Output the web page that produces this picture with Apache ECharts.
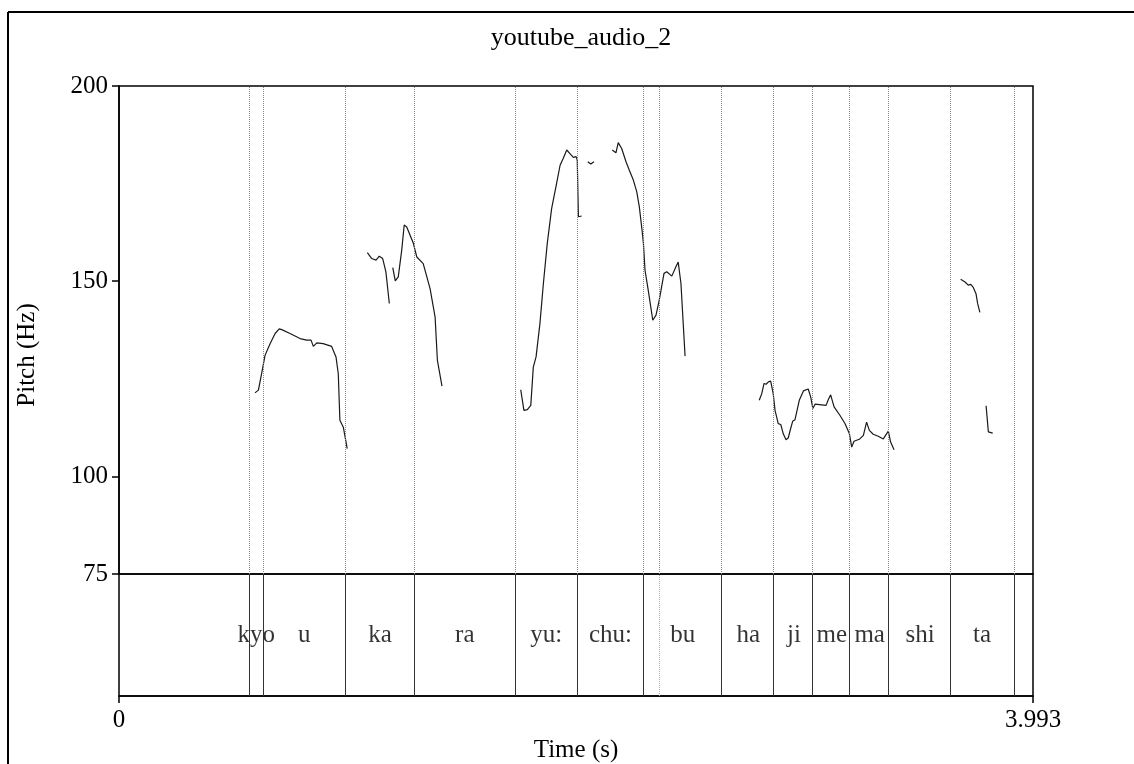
<!DOCTYPE html>
<html><head><meta charset="utf-8">
<script src="https://cdn.jsdelivr.net/npm/echarts@6/dist/echarts.min.js"></script>
<style>html,body{margin:0;padding:0;background:#fff}#c{width:1134px;height:764px}</style>
</head><body><div id="c"></div>
<script>
const chartTitle = 'youtube_audio_2';
const timeMax = 3.993;
const pitchMin = 75, pitchMax = 200;
const pitchTicks = [75, 100, 150, 200];
const timeTicks = [0, 3.993];

// TextGrid tier
const boundaries = [0.5710, 0.6291, 0.9904, 1.2901, 1.7313, 2.0022, 2.2923, 2.6330, 2.8646, 3.0332, 3.1949, 3.3639, 3.6347, 3.9069];
const extraBoundaries = [2.3605];
const intervalLabels = ['', 'kyo', 'u', 'ka', 'ra', 'yu:', 'chu:', 'bu', 'ha', 'ji', 'me', 'ma', 'shi', 'ta', ''];

// Pitch contour segments [time (s), pitch (Hz)]
const seg1 = [[0.594,121.4],[0.609,122.1],[0.623,126.3],[0.638,131.0],[0.660,134.0],[0.682,136.6],[0.700,137.8],[0.711,137.6],[0.747,136.6],[0.791,135.3],[0.820,134.9],[0.839,134.9],[0.849,133.3],[0.864,134.2],[0.892,134.0],[0.929,133.3],[0.948,130.6],[0.958,126.3],[0.965,114.4],[0.980,112.6],[0.997,107.1]];
const seg2 = [[1.085,157.3],[1.104,155.8],[1.123,155.4],[1.137,156.4],[1.152,155.8],[1.166,152.4],[1.181,144.3]];
const seg3 = [[1.196,153.5],[1.207,150.1],[1.220,151.1],[1.235,157.9],[1.246,164.4],[1.257,163.9],[1.286,159.7],[1.301,156.2],[1.329,154.5],[1.359,148.1],[1.381,140.8],[1.391,129.7],[1.411,123.1]];
const seg4 = [[1.755,122.2],[1.769,116.9],[1.784,117.1],[1.799,118.2],[1.810,128.0],[1.822,130.6],[1.839,139.2],[1.854,149.4],[1.871,159.7],[1.890,168.6],[1.909,174.2],[1.927,179.7],[1.941,181.5],[1.956,183.6],[1.970,182.7],[1.985,181.7],[1.997,181.9],[2.002,181.0],[2.007,166.5],[2.021,166.7]];
const seg5 = [[2.048,180.6],[2.061,180.0],[2.075,180.6]];
const seg6 = [[2.155,183.6],[2.171,182.9],[2.181,185.5],[2.196,184.0],[2.215,180.6],[2.229,178.5],[2.247,175.9],[2.262,172.9],[2.273,169.1],[2.285,163.1],[2.291,159.7],[2.298,152.8],[2.312,147.7],[2.332,140.0],[2.346,141.3],[2.360,145.1],[2.381,152.0],[2.393,152.4],[2.415,151.3],[2.433,153.7],[2.443,154.9],[2.455,149.4],[2.473,130.8]];
const seg7 = [[2.797,119.5],[2.808,121.2],[2.818,123.8],[2.827,123.6],[2.837,124.2],[2.847,124.4],[2.854,124.2],[2.858,121.2],[2.866,116.9],[2.880,113.5],[2.891,113.3],[2.902,110.9],[2.914,109.4],[2.924,109.9],[2.934,112.2],[2.943,114.1],[2.953,114.5],[2.972,119.5],[2.990,121.9],[3.011,122.4],[3.022,120.3],[3.031,117.4],[3.041,118.5],[3.089,118.2],[3.099,119.7],[3.109,120.9],[3.124,117.8],[3.150,115.6],[3.172,113.5],[3.191,110.9],[3.201,107.5],[3.211,109.0],[3.234,109.5],[3.252,110.5],[3.266,113.9],[3.278,111.8],[3.295,110.8],[3.317,110.3],[3.339,109.6],[3.361,111.6],[3.371,108.8],[3.386,106.8]];
const seg8 = [[3.677,150.5],[3.696,149.8],[3.710,149.0],[3.721,149.2],[3.732,148.4],[3.744,146.8],[3.751,144.3],[3.761,142.0]];
const seg9 = [[3.788,118.1],[3.798,111.4],[3.805,111.1],[3.817,111.1]];
const pitchSegments = [seg1, seg2, seg3, seg4, seg5, seg6, seg7, seg8, seg9];

const FONT = 'Liberation Serif';
const edges = [0].concat(boundaries, [timeMax]);
const labelData = intervalLabels.map((s, i) => [(edges[i] + edges[i + 1]) / 2, 0.5, s]).filter(d => d[2] !== '');

const series = pitchSegments.map((seg, i) => ({
  type: 'line', xAxisIndex: 0, yAxisIndex: 0, data: seg,
  showSymbol: false, silent: true,
  lineStyle: { color: '#1a1a1a', width: 1.2 },
  markLine: i === 0 ? {
    silent: true, symbol: ['none', 'none'], label: { show: false },
    lineStyle: { type: 'dotted', color: '#888', width: 1 },
    data: boundaries.concat(extraBoundaries).map(t => ({ xAxis: t }))
  } : undefined
}));
series.push({
  type: 'scatter', xAxisIndex: 1, yAxisIndex: 1, data: labelData,
  symbolSize: 1, itemStyle: { color: 'transparent' }, silent: true,
  label: { show: true, position: 'inside', formatter: p => p.value[2], color: '#000', fontFamily: FONT, fontSize: 25 },
  markLine: {
    silent: true, symbol: ['none', 'none'], label: { show: false },
    lineStyle: { type: 'solid', color: '#333', width: 1 },
    data: boundaries.map(t => ({ xAxis: t })).concat(extraBoundaries.map(t => ({ xAxis: t, lineStyle: { type: 'dotted', color: '#aaa', width: 1 } })))
  }
});

const chart = echarts.init(document.getElementById('c'), null, { renderer: 'canvas' });
chart.setOption({
  animation: false,
  backgroundColor: '#fff',
  textStyle: { fontFamily: FONT, color: '#000' },
  title: { text: chartTitle, left: 576, top: 20, textAlign: 'center', textStyle: { fontFamily: FONT, fontSize: 26, fontWeight: 'normal', color: '#000' } },
  grid: [
    { left: 119, top: 86, width: 914, height: 488, show: true, borderColor: '#000', borderWidth: 1.5, backgroundColor: 'transparent' },
    { left: 119, top: 574, width: 914, height: 122, show: true, borderColor: '#000', borderWidth: 1.5, backgroundColor: 'transparent' }
  ],
  xAxis: [
    { type: 'value', gridIndex: 0, min: 0, max: timeMax, show: false },
    { type: 'value', gridIndex: 1, min: 0, max: timeMax,
      axisLine: { show: true, lineStyle: { color: '#000', width: 1.5 } },
      axisTick: { show: true, length: 7, customValues: timeTicks, lineStyle: { color: '#000', width: 1.5 } },
      axisLabel: { show: true, customValues: timeTicks, formatter: v => (v === 0 ? '0' : String(timeMax)), fontFamily: FONT, fontSize: 25, color: '#000', margin: 12 },
      splitLine: { show: false },
      name: 'Time (s)', nameLocation: 'middle', nameGap: 42,
      nameTextStyle: { fontFamily: FONT, fontSize: 25, color: '#000' } }
  ],
  yAxis: [
    { type: 'value', gridIndex: 0, min: pitchMin, max: pitchMax,
      axisLine: { show: true, lineStyle: { color: '#000', width: 1.5 } },
      axisTick: { show: true, length: 7, customValues: pitchTicks, lineStyle: { color: '#000', width: 1.5 } },
      axisLabel: { show: true, customValues: pitchTicks, fontFamily: FONT, fontSize: 25, color: '#000', margin: 11 },
      splitLine: { show: false } },
    { type: 'value', gridIndex: 1, min: 0, max: 1, show: false }
  ],
  graphic: [
    { type: 'line', shape: { x1: 8, y1: 12, x2: 1134, y2: 12 }, style: { stroke: '#000', lineWidth: 2 }, silent: true },
    { type: 'line', shape: { x1: 8, y1: 12, x2: 8, y2: 764 }, style: { stroke: '#000', lineWidth: 2 }, silent: true },
    { type: 'text', x: 27, y: 355, rotation: Math.PI / 2, silent: true,
      style: { text: 'Pitch (Hz)', fontFamily: FONT, fontSize: 25, fill: '#000', align: 'center', verticalAlign: 'middle' } }
  ],
  series: series
});
</script></body></html>
